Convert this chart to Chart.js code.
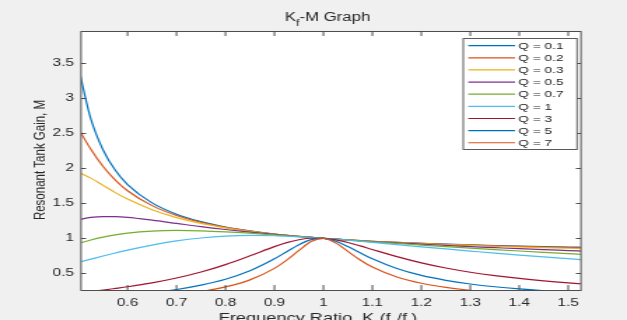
<!DOCTYPE html>
<html>
<head>
<meta charset="utf-8">
<script src="https://cdn.jsdelivr.net/npm/chart.js@4.4.1/dist/chart.umd.min.js"></script>
<style>
    html, body { margin: 0; padding: 0; background: #f0f0f0; overflow: hidden; }
    /* the reference picture is a MATLAB figure stretched sideways, so draw narrow and widen */
    #wrap { width: 448px; height: 320px; transform: scaleX(1.39955); transform-origin: 0 0; }
</style>
</head>
<body>
<div id="wrap"><canvas id="kfChart" width="448" height="320"></canvas></div>
<script>
const K_RATIO = [0.5, 0.525, 0.55, 0.575, 0.6, 0.65, 0.7, 0.75, 0.8, 0.85, 0.9, 0.925, 0.95, 0.975, 1,
                 1.025, 1.05, 1.075, 1.1, 1.15, 1.2, 1.25, 1.3, 1.35, 1.4, 1.45, 1.5, 1.53];

const Q_LABELS = ['Q = 0.1', 'Q = 0.2', 'Q = 0.3', 'Q = 0.5', 'Q = 0.7', 'Q = 1', 'Q = 3', 'Q = 5', 'Q = 7'];

const M_Q01 = [3.430, 2.705, 2.262, 1.971, 1.768, 1.506, 1.345, 1.238, 1.162, 1.106, 1.062, 1.044, 1.028, 1.013, 1,
               0.988, 0.977, 0.967, 0.958, 0.942, 0.929, 0.917, 0.906, 0.897, 0.889, 0.882, 0.876, 0.872];
const M_Q02 = [2.561, 2.272, 2.026, 1.832, 1.680, 1.467, 1.326, 1.229, 1.157, 1.103, 1.061, 1.044, 1.028, 1.013, 1,
               0.988, 0.977, 0.967, 0.958, 0.941, 0.927, 0.914, 0.903, 0.893, 0.884, 0.876, 0.869, 0.865];
const M_Q03 = [1.943, 1.860, 1.756, 1.653, 1.560, 1.408, 1.296, 1.213, 1.150, 1.100, 1.060, 1.043, 1.027, 1.013, 1,
               0.988, 0.977, 0.967, 0.957, 0.940, 0.924, 0.911, 0.898, 0.887, 0.876, 0.867, 0.858, 0.853];
const M_Q05 = [1.265, 1.298, 1.311, 1.310, 1.299, 1.259, 1.213, 1.167, 1.126, 1.089, 1.056, 1.041, 1.026, 1.013, 1,
               0.988, 0.976, 0.965, 0.954, 0.934, 0.916, 0.899, 0.882, 0.867, 0.852, 0.838, 0.825, 0.817];
const M_Q07 = [0.927, 0.976, 1.017, 1.050, 1.075, 1.104, 1.113, 1.107, 1.093, 1.073, 1.049, 1.037, 1.025, 1.013, 1,
               0.988, 0.975, 0.963, 0.951, 0.927, 0.904, 0.881, 0.860, 0.839, 0.819, 0.800, 0.782, 0.771];
const M_Q1  = [0.658, 0.703, 0.748, 0.791, 0.832, 0.904, 0.963, 1.005, 1.031, 1.041, 1.037, 1.030, 1.022, 1.012, 1,
               0.987, 0.973, 0.958, 0.943, 0.911, 0.879, 0.848, 0.818, 0.788, 0.760, 0.734, 0.709, 0.694];
const M_Q3  = [0.222, 0.241, 0.261, 0.284, 0.308, 0.364, 0.433, 0.519, 0.625, 0.750, 0.881, 0.938, 0.980, 1.001, 1,
               0.978, 0.940, 0.892, 0.840, 0.739, 0.650, 0.576, 0.516, 0.467, 0.427, 0.393, 0.364, 0.349];
const M_Q5  = [0.133, 0.145, 0.157, 0.171, 0.187, 0.223, 0.269, 0.331, 0.415, 0.536, 0.707, 0.809, 0.909, 0.981, 1,
               0.960, 0.882, 0.793, 0.707, 0.569, 0.470, 0.400, 0.348, 0.308, 0.277, 0.252, 0.232, 0.221];
const M_Q7  = [0.095, 0.104, 0.113, 0.123, 0.134, 0.160, 0.194, 0.240, 0.306, 0.407, 0.571, 0.688, 0.827, 0.954, 1,
               0.935, 0.813, 0.691, 0.590, 0.448, 0.359, 0.300, 0.258, 0.227, 0.203, 0.184, 0.168, 0.160];

const X_TICKS = [0.6, 0.7, 0.8, 0.9, 1, 1.1, 1.2, 1.3, 1.4, 1.5];
const Y_TICKS = [0.5, 1, 1.5, 2, 2.5, 3, 3.5];

// MATLAB default line colour order
const COLORS = ['#0072BD', '#D95319', '#EDB120', '#7E2F8E', '#77AC30', '#4DBEEE', '#A2142F', '#0072BD', '#D95319'];

const SERIES = [M_Q01, M_Q02, M_Q03, M_Q05, M_Q07, M_Q1, M_Q3, M_Q5, M_Q7];
const TEXT_COLOR = '#262626';
const FONT = '"Liberation Sans", Arial, sans-serif';

// --- HELPERS ---
function drawRich(ctx, parts, cx, y, size) {
    // parts: [text, isSubscript]
    const subSize = Math.round(size * 0.72);
    const widths = parts.map(([t, sub]) => {
        ctx.font = `${sub ? subSize : size}px ${FONT}`;
        return ctx.measureText(t).width;
    });
    let x = cx - widths.reduce((a, b) => a + b, 0) / 2;
    parts.forEach(([t, sub], i) => {
        ctx.font = `${sub ? subSize : size}px ${FONT}`;
        ctx.fillText(t, x, sub ? y + size * 0.45 : y);
        x += widths[i];
    });
}

const plotBackground = {
    id: 'plotBackground',
    beforeDraw(chart) {
        const { ctx, chartArea: a } = chart;
        ctx.save();
        ctx.fillStyle = '#ffffff';
        ctx.fillRect(a.left, a.top, a.right - a.left, a.bottom - a.top);
        ctx.restore();
    }
};

const matlabAxes = {
    id: 'matlabAxes',
    afterDatasetsDraw(chart) {
        const { ctx, chartArea: a, scales } = chart;
        ctx.save();
        ctx.strokeStyle = '#4d4d4d';
        ctx.lineWidth = 1;
        ctx.strokeRect(a.left, a.top + 0.5, a.right - a.left, a.bottom - a.top);

        // inward ticks on all four sides
        ctx.beginPath();
        X_TICKS.forEach(v => {
            const px = scales.x.getPixelForValue(v);
            ctx.moveTo(px, a.bottom); ctx.lineTo(px, a.bottom - 5);
            ctx.moveTo(px, a.top); ctx.lineTo(px, a.top + 5);
        });
        Y_TICKS.forEach(v => {
            const py = Math.round(scales.y.getPixelForValue(v)) + 0.5;
            ctx.moveTo(a.left, py); ctx.lineTo(a.left + 3.6, py);
            ctx.moveTo(a.right, py); ctx.lineTo(a.right - 3.6, py);
        });
        ctx.stroke();

        // legend box, top right inside the axes
        const box = { left: 331.0, right: 412.3, top: 38.5, bottom: 149.5 };
        ctx.fillStyle = '#ffffff';
        ctx.fillRect(box.left, box.top, box.right - box.left, box.bottom - box.top);
        ctx.strokeStyle = '#5a5a5a';
        ctx.strokeRect(box.left, box.top, box.right - box.left, box.bottom - box.top);
        ctx.font = `9.8px ${FONT}`;
        ctx.textBaseline = 'middle';
        ctx.textAlign = 'left';
        chart.data.datasets.forEach((ds, i) => {
            const y = 45.7 + i * 12.13;
            ctx.strokeStyle = ds.borderColor;
            ctx.lineWidth = 1.2;
            ctx.beginPath();
            ctx.moveTo(334.6, y); ctx.lineTo(368.0, y);
            ctx.stroke();
            ctx.fillStyle = TEXT_COLOR;
            ctx.fillText(ds.label, 370.3, y + 0.5);
        });
        ctx.restore();
    },
    afterDraw(chart) {
        const { ctx } = chart;
        ctx.save();
        ctx.fillStyle = TEXT_COLOR;
        ctx.textBaseline = 'alphabetic';
        ctx.textAlign = 'left';
        // title  K_f-M Graph
        drawRich(ctx, [['K', false], ['f', true], ['-M Graph', false]], 234.0, 20.7, 12);
        // x label, cut by the bottom edge as in the reference
        drawRich(ctx, [['Frequency Ratio, K (f', false], ['s', true], ['/f', false], ['r', true], [')', false]], 227.2, 321.5, 13);
        // y label
        ctx.translate(32.4, 160);
        ctx.rotate(-Math.PI / 2);
        ctx.font = `11.5px ${FONT}`;
        ctx.textAlign = 'center';
        ctx.fillText('Resonant Tank Gain, M', 0, 0);
        ctx.restore();
    }
};

const datasets = SERIES.map((values, i) => ({
    label: Q_LABELS[i],
    data: values.map((m, j) => ({ x: K_RATIO[j], y: m })),
    borderColor: COLORS[i],
    backgroundColor: COLORS[i],
    borderWidth: 1.2,
    pointRadius: 0,
    fill: false,
    cubicInterpolationMode: 'monotone',
    order: SERIES.length - i,
    clip: 0
}));

const tickFont = { family: FONT, size: 11 };

new Chart(document.getElementById('kfChart'), {
    type: 'line',
    data: { datasets },
    options: {
        responsive: false,
        animation: false,
        events: [],
        layout: { padding: { top: 31, right: 32.9, bottom: 0, left: 0 } },
        elements: { line: { capBezierPoints: false } },
        plugins: { legend: { display: false }, title: { display: false }, tooltip: { enabled: false } },
        scales: {
            x: {
                type: 'linear', min: 0.505, max: 1.526,
                grid: { display: false, drawTicks: false },
                border: { display: false },
                ticks: { padding: 6, font: tickFont, color: TEXT_COLOR, autoSkip: false, maxRotation: 0, callback: v => String(v) },
                afterBuildTicks: s => { s.ticks = X_TICKS.map(v => ({ value: v })); },
                afterFit: s => { s.height = 30; }
            },
            y: {
                type: 'linear', min: 0.262, max: 3.961,
                grid: { display: false, drawTicks: false },
                border: { display: false },
                ticks: { padding: 5, font: tickFont, color: TEXT_COLOR, autoSkip: false, callback: v => String(v) },
                afterBuildTicks: s => { s.ticks = Y_TICKS.map(v => ({ value: v })); },
                afterFit: s => { s.width = 57.9; }
            }
        }
    },
    plugins: [plotBackground, matlabAxes]
});
</script>
</body>
</html>
